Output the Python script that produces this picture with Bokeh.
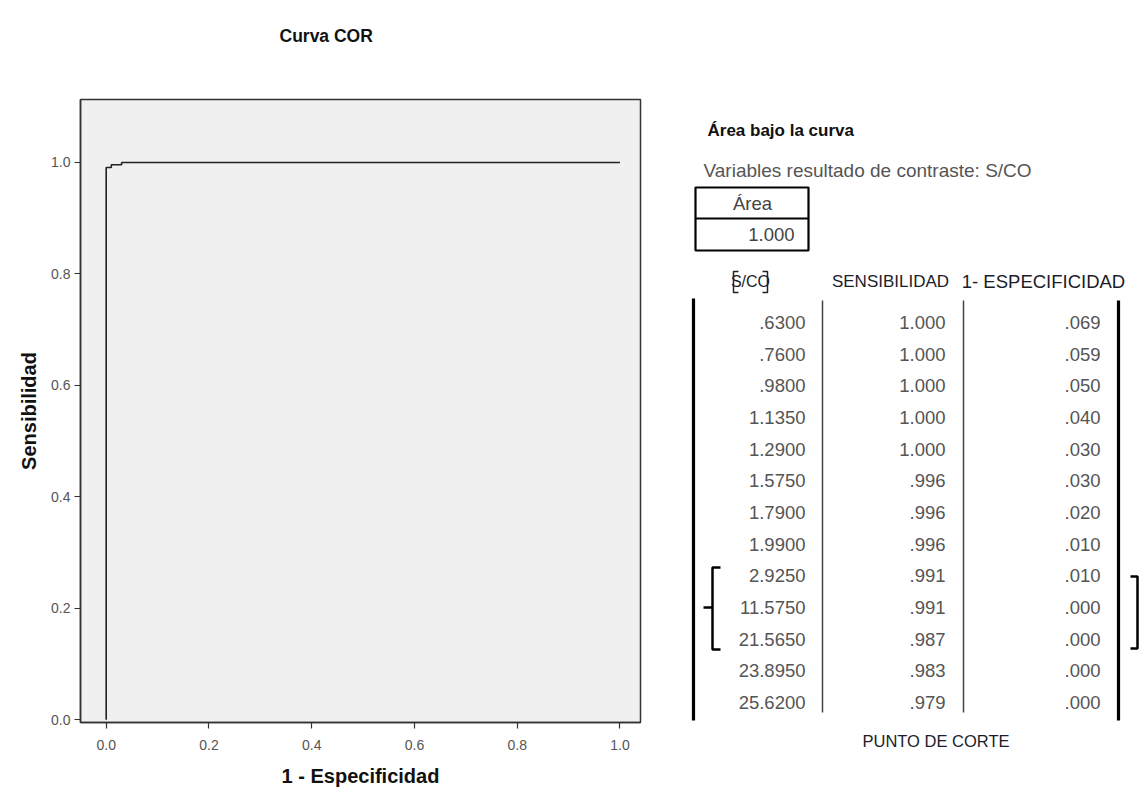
from bokeh.plotting import figure
from bokeh.layouts import row
from bokeh.models import Range1d, FixedTicker, Title
from bokeh.embed import file_html
from bokeh.resources import INLINE
from bokeh.core.properties import value

# ---------------- data ----------------
cutoffs = [".6300", ".7600", ".9800", "1.1350", "1.2900", "1.5750", "1.7900",
           "1.9900", "2.9250", "11.5750", "21.5650", "23.8950", "25.6200"]
sensitivity = [1.000, 1.000, 1.000, 1.000, 1.000, 0.996, 0.996, 0.996,
               0.991, 0.991, 0.987, 0.983, 0.979]
one_minus_spec = [0.069, 0.059, 0.050, 0.040, 0.030, 0.030, 0.020, 0.010,
                  0.010, 0.000, 0.000, 0.000, 0.000]
auc = 1.000
x_ticks = [0.0, 0.2, 0.4, 0.6, 0.8, 1.0]
y_ticks = [0.0, 0.2, 0.4, 0.6, 0.8, 1.0]

FONT = "Liberation Sans"

def fmt3(v):
    s = f"{v:.3f}"
    return s[1:] if s.startswith("0") else s

# ROC curve points (ordered by increasing 1-specificity)
fpr = [0.0] + one_minus_spec[::-1] + [1.0]
tpr = [0.0] + sensitivity[::-1] + [1.0]

H = 790
FRAME_TOP, FRAME_BOTTOM = 99, 722

# ---------------- left: ROC chart ----------------
p = figure(width=668, height=H, x_range=Range1d(-0.05, 1.04),
           y_range=Range1d(-0.005, 1.113), output_backend="svg",
           toolbar_location=None, min_border_left=80, min_border_right=28,
           min_border_top=FRAME_TOP, min_border_bottom=H - FRAME_BOTTOM)
p.background_fill_color = "#f0f0f0"
p.border_fill_color = "white"
p.outline_line_color = "#333333"
p.outline_line_width = 1.5
p.grid.visible = False

p.title.text = "Curva COR"
p.title.align = "left"
p.title.offset = 199
p.title.text_font = FONT
p.title.text_font_size = "17.5px"
p.title.text_font_style = "bold"
p.title.text_color = "#111111"
p.title.standoff = 10
# blank spacer panel between the title and the frame
p.add_layout(Title(text=" ", text_font_size="10px", standoff=36), "above")

for ax in (p.xaxis[0], p.yaxis[0]):
    ax.axis_line_color = "#333333"
    ax.axis_line_width = 1.5
    ax.major_tick_line_color = "#333333"
    ax.major_tick_line_width = 1.2
    ax.major_tick_in = 0
    ax.major_tick_out = 6
    ax.minor_tick_line_color = None
    ax.major_label_text_font = FONT
    ax.major_label_text_font_size = "14px"
    ax.major_label_text_color = "#555555"
    ax.axis_label_text_font = FONT
    ax.axis_label_text_font_size = "20px"
    ax.axis_label_text_font_style = "bold"
    ax.axis_label_text_color = "#111111"

p.xaxis.ticker = FixedTicker(ticks=x_ticks)
p.yaxis.ticker = FixedTicker(ticks=y_ticks)
p.xaxis.major_label_overrides = {t: f"{t:.1f}" for t in x_ticks}
p.yaxis.major_label_overrides = {t: f"{t:.1f}" for t in y_ticks}
p.xaxis.axis_label = "1 - Especificidad"
p.yaxis.axis_label = "Sensibilidad"
p.xaxis.major_label_standoff = 11
p.xaxis.axis_label_standoff = 12
p.yaxis.major_label_standoff = 4
p.yaxis.axis_label_standoff = 8

p.line(fpr, tpr, line_color="#222222", line_width=1.6)

# ---------------- right: table (page-pixel coordinates) ----------------
X0, X1 = 668, 1143
t = figure(width=X1 - X0, height=H, x_range=Range1d(X0, X1),
           y_range=Range1d(FRAME_BOTTOM, FRAME_TOP),
           output_backend="svg", toolbar_location=None,
           x_axis_type=None, y_axis_type=None,
           min_border_left=0, min_border_right=0,
           min_border_top=FRAME_TOP, min_border_bottom=H - FRAME_BOTTOM)
t.grid.visible = False
t.outline_line_color = None
t.background_fill_color = "white"
t.border_fill_color = "white"

hdr = "#1c1c2a"
foot = Title(text="PUNTO DE CORTE", align="left", offset=194, standoff=14,
             text_font=FONT, text_font_size="16.5px", text_font_style="normal",
             text_color=hdr)
t.add_layout(foot, "below")

def txt(x, y, s, align="left", size="15px", color="#555555", style="normal"):
    t.text(x=x, y=y, text=s, text_align=align, text_baseline="middle",
           text_font=value(FONT), text_font_size=size, text_color=color,
           text_font_style=style)

txt([707], [130], ["Área bajo la curva"], size="17px", color="#111111", style="bold")
txt([703], [170], ["Variables resultado de contraste: S/CO"], size="19px", color="#555555")

# AUC box
t.quad(left=[695], right=[808], top=[187], bottom=[250], fill_color=None,
       line_color="black", line_width=2.2)
t.segment(x0=[695], y0=[218], x1=[808], y1=[218], line_color="black", line_width=2.2)
txt([752], [203], ["Área"], align="center", size="18.5px", color="#444444")
txt([794], [234], [f"{auc:.3f}"], align="right", size="18.5px", color="#444444")

# headers
txt([750], [281], ["S/CO"], align="center", size="16px", color=hdr)
t.multi_line(xs=[[738, 733, 733, 738], [762, 767, 767, 762]],
             ys=[[271, 271, 292, 292], [271, 271, 292, 292]],
             line_color="#222222", line_width=1.5)
txt([890], [281], ["SENSIBILIDAD"], align="center", size="17px", color=hdr)
txt([1043], [281], ["1- ESPECIFICIDAD"], align="center", size="18.5px", color=hdr)

# rows
n = len(cutoffs)
row_y = [322 + i * 31.67 for i in range(n)]
txt([805] * n, row_y, cutoffs, align="right", size="18.5px")
txt([945] * n, row_y, [fmt3(v) for v in sensitivity], align="right", size="18.5px")
txt([1100] * n, row_y, [fmt3(v) for v in one_minus_spec], align="right", size="18.5px")

# vertical rules
t.segment(x0=[693, 1118], y0=[298, 300], x1=[693, 1118], y1=[720, 720],
          line_color="black", line_width=3.2)
t.segment(x0=[822, 963], y0=[300, 300], x1=[822, 963], y1=[712, 712],
          line_color="#444444", line_width=1.5)

# brackets
t.multi_line(xs=[[720, 712, 712, 720], [703, 712]], ys=[[567, 567, 649, 649], [607, 607]],
             line_color="black", line_width=2.5)
t.multi_line(xs=[[1130, 1137, 1137, 1130]], ys=[[576, 576, 648, 648]],
             line_color="black", line_width=2.5)

layout = row(p, t)
open("out.html", "w").write(file_html(layout, INLINE))
